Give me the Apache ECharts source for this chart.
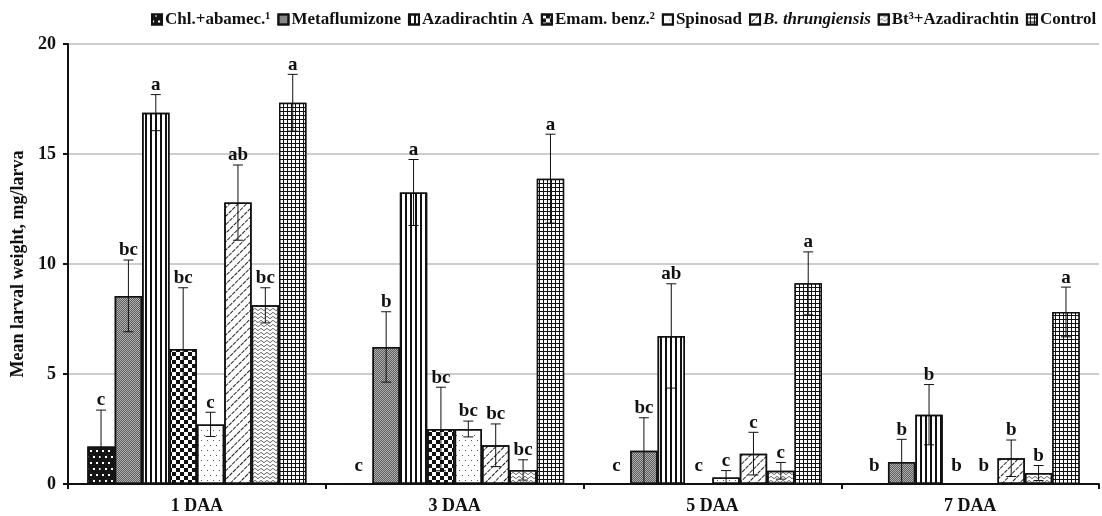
<!DOCTYPE html>
<html><head><meta charset="utf-8">
<script src="https://cdn.jsdelivr.net/npm/echarts@6/dist/echarts.min.js"></script>
<style>html,body{margin:0;padding:0;background:#fff}#c{width:1102px;height:516px}</style>
</head><body><div id="c"></div>
<script>
const categories = ['1 DAA', '3 DAA', '5 DAA', '7 DAA'];
const seriesNames = ['Chl.+abamec.\u00b9', 'Metaflumizone', 'Azadirachtin A', 'Emam. benz.\u00b2', 'Spinosad', 'B. thrungiensis', 'Bt\u00b3+Azadirachtin', 'Control'];
const yTicks = [0, 5, 10, 15, 20];

const chlAbamec = [1.70, 0, 0, 0];
const metaflumizone = [8.55, 6.23, 1.51, 1.00];
const azadirachtinA = [16.88, 13.25, 6.73, 3.15];
const emamBenz = [6.14, 2.50, 0, 0];
const spinosad = [2.71, 2.50, 0.30, 0];
const bThrungiensis = [12.79, 1.76, 1.38, 1.17];
const btAzadirachtin = [8.12, 0.64, 0.60, 0.50];
const control = [17.33, 13.88, 9.12, 7.82];

const errChlAbamec = [1.66, 0, 0, 0];
const errMetaflumizone = [1.63, 1.60, 1.50, 1.03];
const errAzadirachtinA = [0.82, 1.50, 2.37, 1.37];
const errEmamBenz = [2.78, 1.90, 0, 0];
const errSpinosad = [0.55, 0.36, 0.31, 0];
const errBThrungiensis = [1.71, 0.97, 0.97, 0.83];
const errBtAzadirachtin = [0.80, 0.46, 0.38, 0.34];
const errControl = [1.29, 2.02, 1.43, 1.13];

const letChlAbamec = ['c', 'c', 'c', 'b'];
const letMetaflumizone = ['bc', 'b', 'bc', 'b'];
const letAzadirachtinA = ['a', 'a', 'ab', 'b'];
const letEmamBenz = ['bc', 'bc', 'c', 'b'];
const letSpinosad = ['c', 'bc', 'c', 'b'];
const letBThrungiensis = ['ab', 'bc', 'c', 'b'];
const letBtAzadirachtin = ['bc', 'bc', 'c', 'b'];
const letControl = ['a', 'a', 'a', 'a'];

const values = [chlAbamec, metaflumizone, azadirachtinA, emamBenz, spinosad, bThrungiensis, btAzadirachtin, control];
const errors = [errChlAbamec, errMetaflumizone, errAzadirachtinA, errEmamBenz, errSpinosad, errBThrungiensis, errBtAzadirachtin, errControl];
const letters = [letChlAbamec, letMetaflumizone, letAzadirachtinA, letEmamBenz, letSpinosad, letBThrungiensis, letBtAzadirachtin, letControl];

const FONT = '"Liberation Serif","Times New Roman",serif';
const GAP = 0.15;

const fills = [
  { color: '#151515', decal: { symbol: 'rect', color: '#ffffff', dashArrayX: [[1.6, 3.4], [0, 2.5, 1.6, 0.9]], dashArrayY: [1.6, 3.4], symbolSize: 1 } },
  { color: '#b4b4b4', decal: { symbol: 'rect', color: '#5a5a5a', dashArrayX: [[1, 1], [0, 1, 1, 0]], dashArrayY: [1, 0], symbolSize: 1 } },
  { color: '#ffffff', decal: { symbol: 'rect', color: '#111111', dashArrayX: [1.3, 2.7], dashArrayY: [6, 0], symbolSize: 1 } },
  { color: '#ffffff', decal: { symbol: 'rect', color: '#111111', dashArrayX: [[4, 4], [0, 4, 4, 0]], dashArrayY: [4, 0], symbolSize: 1 } },
  { color: '#ffffff', decal: { symbol: 'rect', color: '#555555', dashArrayX: [[1, 5], [0, 3, 1, 2]], dashArrayY: [1, 4], symbolSize: 1 } },
  { color: '#ffffff', decal: { symbol: 'rect', color: '#222222', dashArrayX: [1, 5], dashArrayY: [4, 1], rotation: Math.PI / 4, symbolSize: 1 } },
  { color: '#ffffff', decal: { symbol: 'path://M0,3 L3,0 L6,3 L6,4.2 L3,1.2 L0,4.2 Z', symbolKeepAspect: false, color: '#333333', dashArrayX: [6, 0], dashArrayY: [3, 0.6], symbolSize: 1 } },
  { color: '#111111', decal: { symbol: 'rect', color: '#ffffff', dashArrayX: [2.4, 1], dashArrayY: [2.4, 1], symbolSize: 1 } }
];

const barSeries = seriesNames.map((name, i) => ({
  name: name,
  type: 'bar',
  data: values[i],
  barGap: '0%',
  barCategoryGap: (GAP * 100) + '%',
  itemStyle: { color: fills[i].color, decal: fills[i].decal, borderColor: '#111', borderWidth: 1.5 },
  emphasis: { disabled: true }
}));

const errData = [];
for (let s = 0; s < values.length; s++) {
  for (let c = 0; c < categories.length; c++) {
    errData.push([c, s, values[s][c], errors[s][c]]);
  }
}

const errSeries = {
  type: 'custom',
  name: 'err',
  data: errData,
  encode: { x: 0, y: 2 },
  z: 10,
  silent: true,
  renderItem: function (params, api) {
    const c = api.value(0), s = api.value(1), v = api.value(2), e = api.value(3);
    const band = api.size([1, 0])[0];
    const inner = band * (1 - GAP);
    const bw = inner / values.length;
    const cx = api.coord([c, 0])[0];
    const x = cx - inner / 2 + (s + 0.5) * bw;
    const base = api.coord([c, 0])[1];
    const children = [];
    let labelBottom;
    if (e > 0) {
      const yt = api.coord([c, v + e])[1];
      const yb = api.coord([c, Math.max(0, v - e)])[1];
      const cap = 5;
      const st = { stroke: '#111', lineWidth: 1 };
      children.push({ type: 'line', shape: { x1: x, y1: yt, x2: x, y2: yb }, style: st });
      children.push({ type: 'line', shape: { x1: x - cap, y1: yt, x2: x + cap, y2: yt }, style: st });
      children.push({ type: 'line', shape: { x1: x - cap, y1: yb, x2: x + cap, y2: yb }, style: st });
      labelBottom = yt;
    } else if (v > 0) {
      labelBottom = api.coord([c, v])[1] - 2;
    } else {
      labelBottom = base - 8;
    }
    children.push({
      type: 'text',
      style: {
        text: letters[s][c], x: x, y: labelBottom,
        align: 'center', verticalAlign: 'bottom',
        font: 'bold 19px ' + FONT, fill: '#111'
      }
    });
    return { type: 'group', children: children };
  }
};

const chart = echarts.init(document.getElementById('c'), null, { renderer: 'canvas' });
chart.setOption({
  animation: false,
  backgroundColor: '#ffffff',
  legend: {
    data: seriesNames,
    top: 6,
    left: 146,
    icon: 'rect',
    itemWidth: 10,
    itemHeight: 10,
    itemGap: 7,
    selectedMode: false,
    textStyle: {
      fontFamily: FONT, fontWeight: 'bold', fontSize: 17, color: '#111', padding: [0, 0, 0, -2],
      rich: { i: { fontFamily: FONT, fontWeight: 'bold', fontStyle: 'italic', fontSize: 17, color: '#111' } }
    },
    formatter: function (n) { return n === 'B. thrungiensis' ? '{i|B. thrungiensis}' : n; }
  },
  grid: { left: 68, right: 3, top: 44, bottom: 32, containLabel: false },
  xAxis: {
    type: 'category',
    data: categories,
    axisLine: { lineStyle: { color: '#111', width: 2 } },
    axisTick: { show: true, length: 5, lineStyle: { color: '#111', width: 2 }, alignWithLabel: false },
    axisLabel: { fontFamily: FONT, fontWeight: 'bold', fontSize: 18, color: '#111', margin: 13 }
  },
  yAxis: {
    type: 'value',
    min: yTicks[0],
    max: yTicks[yTicks.length - 1],
    interval: 5,
    name: 'Mean larval weight, mg/larva',
    nameLocation: 'middle',
    nameGap: 40,
    nameTextStyle: { fontFamily: FONT, fontWeight: 'bold', fontSize: 18, color: '#111' },
    axisLine: { show: true, lineStyle: { color: '#111', width: 2 } },
    axisTick: { show: true, length: 5, lineStyle: { color: '#111', width: 2 } },
    axisLabel: { fontFamily: FONT, fontWeight: 'bold', fontSize: 18, color: '#111', margin: 12 },
    splitLine: { show: true, lineStyle: { color: '#bdbdbd', width: 1.5 } }
  },
  series: barSeries.concat([errSeries])
});
</script></body></html>
